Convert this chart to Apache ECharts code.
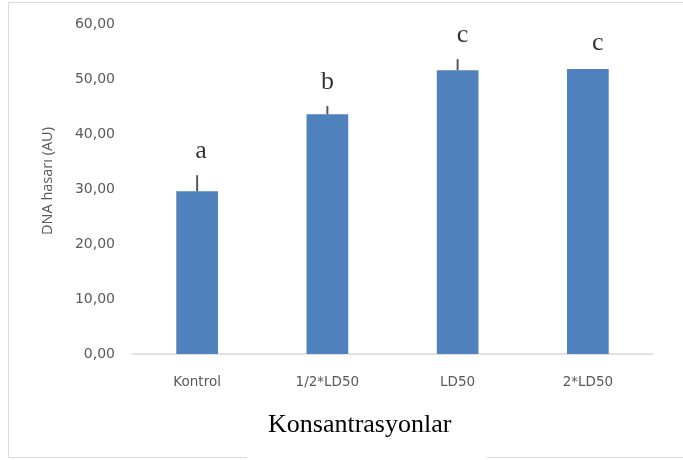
<!DOCTYPE html>
<html>
<head>
<meta charset="utf-8">
<script src="https://cdn.jsdelivr.net/npm/echarts@6/dist/echarts.min.js"></script>
<style>
  html, body { margin: 0; padding: 0; background: #fff; }
  #chart { width: 683px; height: 460px; }
</style>
</head>
<body>
<div id="chart"></div>
<script>
// DNA damage by concentration group
const categories = ['Kontrol', '1/2*LD50', 'LD50', '2*LD50'];
const meanValues = [29.6, 43.6, 51.6, 51.8];
const errorValues = [2.9, 1.5, 2.0, 0];
const groupLetters = ['a', 'b', 'c', 'c'];
const letterHeights = [36.8, 49.4, 58.0, 56.5];
const letterShift = [4, 0, 5, 10];
const yTicks = [0, 10, 20, 30, 40, 50, 60];

const chart = echarts.init(document.getElementById('chart'));

const option = {
  animation: false,
  backgroundColor: '#fff',
  grid: { left: 132, right: 30, top: 24, bottom: 106 },
  title: {
    text: 'Konsantrasyonlar',
    left: 268,
    top: 412,
    padding: 0,
    textStyle: { fontFamily: 'Liberation Serif', fontSize: 26, fontWeight: 'normal', color: '#000' }
  },
  graphic: [
    {
      type: 'rect', z: -10, silent: true,
      shape: { x: 8.5, y: 2.5, width: 690, height: 455 },
      style: { fill: 'none', stroke: '#d9d9d9', lineWidth: 1 }
    },
    {
      type: 'rect', z: -9, silent: true,
      shape: { x: 247, y: 450, width: 240, height: 10 },
      style: { fill: '#fff' }
    }
  ],
  xAxis: {
    type: 'category',
    data: categories,
    axisLine: { lineStyle: { color: '#d9d9d9', width: 1.5 } },
    axisTick: { show: false },
    axisLabel: { color: '#595959', fontFamily: 'DejaVu Sans', fontSize: 13.5, margin: 21 }
  },
  yAxis: {
    type: 'value',
    min: yTicks[0],
    max: yTicks[yTicks.length - 1],
    interval: 10,
    name: 'DNA hasarı (AU)',
    nameLocation: 'middle',
    nameGap: 77,
    nameRotate: 90,
    nameTextStyle: { color: '#595959', fontFamily: 'Open Sans', fontSize: 14.5, padding: [0, 0, 0, 16] },
    axisLine: { show: false },
    axisTick: { show: false },
    splitLine: { show: false },
    axisLabel: {
      color: '#595959', fontFamily: 'DejaVu Sans', fontSize: 14, margin: 17,
      formatter: v => v.toFixed(2).replace('.', ',')
    }
  },
  series: [
    {
      type: 'bar',
      data: meanValues,
      barWidth: '32%',
      itemStyle: { color: '#4f81bd' },
      z: 2
    },
    {
      // upward error whiskers
      type: 'custom',
      z: 3,
      data: meanValues.map((v, i) => [i, v, v + errorValues[i]]),
      renderItem: (params, api) => {
        const base = api.coord([api.value(0), api.value(1)]);
        const top = api.coord([api.value(0), api.value(2)]);
        return {
          type: 'line',
          shape: { x1: base[0], y1: base[1], x2: top[0], y2: top[1] },
          style: { stroke: '#595959', lineWidth: 2 }
        };
      }
    },
    {
      // significance group letters
      type: 'scatter',
      symbolSize: 1,
      itemStyle: { color: 'rgba(0,0,0,0)' },
      z: 4,
      data: letterHeights.map((h, i) => ({
        value: [i, h],
        label: {
          show: true,
          position: 'inside',
          offset: [letterShift[i], 0],
          formatter: groupLetters[i],
          fontFamily: 'Liberation Serif',
          fontSize: 26,
          color: '#000'
        }
      }))
    }
  ]
};

chart.setOption(option);
</script>
</body>
</html>
